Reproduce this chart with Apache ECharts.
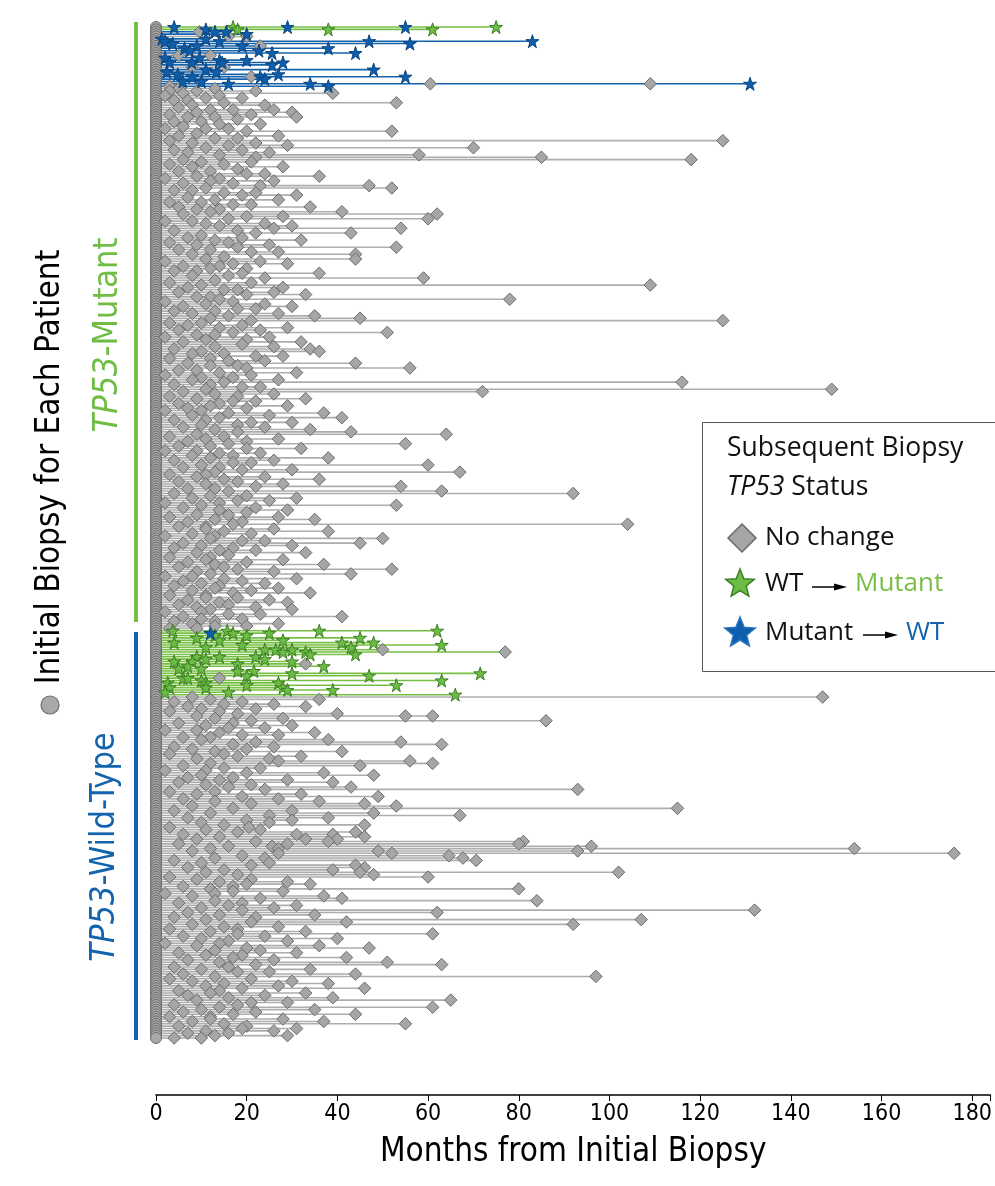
<!DOCTYPE html>
<html><head><meta charset="utf-8">
<script src="https://cdn.jsdelivr.net/npm/echarts@6/dist/echarts.min.js"></script>
<style>html,body{margin:0;padding:0;background:#fff}#c{width:995px;height:1186px}</style>
</head><body><div id="c"></div><script>
// ---------- DATA (months from initial biopsy) ----------
// TP53-mutant group, one entry per patient (top to bottom): "no change" biopsies
const mutDiamonds = [
[],[],[9.6],[],[16,20],[],[],[],[23],[],
[],[],[5,12],[],[],[],[],[8,15],[],[],
[],[21],[],[],[60.5,109],[3],[5,13],[3,9,22],[6,39],[2,14],
[11,19],[4,7],[15,53],[8,24],[5],[12,17,26],[9,30],[3,21],[7,13,31],[18],
[4,10],[14,23],[6],[2,11,16],[20,52],[9],[5,27],[13,18],[3,125],[8,22],
[16,29],[11,70],[4,19],[7,25],[14,58],[22,85],[6,118],[10,21],[3,15],[8,28],
[18],[5,12],[20,24],[9,36],[2,14],[12,26],[6,17],[23,47],[11,52],[4,8],
[15,22],[19,31],[7],[13,27],[3,10],[17,21],[5,34],[9,14],[12,41],[6,62],
[20,28],[16,60],[2,8],[11,24],[14,30],[26,54],[4,18],[22,43],[10],[7,19],
[13,32],[3,16],[9,25],[18,53],[5,12],[21,27],[8,44],[15],[11,44],[2,23],
[17,29],[6,14],[12,20],[4,9],[19,36],[8,16],[24,59],[13],[3,21],[10,109],
[7,28],[15,18],[5,26],[20,33],[9,12],[14,78],[2,17],[11,24],[6,30],[18,22],
[4,13],[8,27],[16,35],[12,45],[21,125],[3,10],[7,19],[14,29],[5,23],[17,51],
[9,13],[2,25],[11,20],[6,32],[19],[13,26],[4,34],[10,36],[8,15],[22,28],
[3,12],[16,24],[7,44],[12,18],[20,56],[5,9],[14,31],[2,21],[10,17],[8,27],
[15,116],[4,12],[19,23],[11,149],[6,72],[13,26],[3,18],[9,33],[17,22],[5,14],
[12,29],[7,20],[2,10],[16,37],[8,25],[14,41],[4,11],[21,30],[10,18],[6,24],
[13,34],[18,43],[9,64],[3,15],[11,27],[7,20],[16,55],[5,12],[20,32],[2,9],
[14,23],[8,17],[12,38],[4,26],[17,21],[10,60],[6,14],[19,30],[13,67],[3,11],
[9,24],[15,36],[5,18],[11,28],[22,54],[7,13],[16,63],[4,92],[12,20],[8,31],
[18,25],[2,14],[10,53],[6,22],[14,29],[20],[9,16],[3,27],[13,35],[7,19],
[17,104],[5,11],[11,26],[15,38],[8,21],[2,13],[12,50],[19,24],[6,45],[10,30],
[4,17],[14,22],[9,33],[16],[3,12],[11,28],[7,20],[13,37],[5,15],[18,52],
[9,26],[12,43],[2,8],[15,31],[6,19],[10,24],[4,14],[13,27],[8,21],[17,34],
[3,11],[11,18],[7,25],[14,29],[5,16],[9,22],[12,30],[2,10],[16,23],[6,41],
[10,19],[4,13],[8,27],[13,20],[3,9]
];
// TP53-mutant group: Mutant -> WT biopsies (top rows)
const mutBlueStars = [
[4,29,55],[11],[13,15.5],[20],[],[1.3,11],[2,14,47,83],[3.7,56],[9,19],[6.3,38],
[7.4,22.7],[25.6,44],[],[2,9.6],[14,20],[3,7.9,14.6,28],[25.6],[],[11,48],[2.4,13.3],
[4.8,27],[8,23,55],[24],[5.9,10],[16,34,131],[38],[]
];
// TP53-mutant group: WT -> Mutant biopsies
const mutGreenStars = [[17,75],[18,38,61]];

// TP53-wild-type group, one entry per patient: "no change" biopsies
const wtDiamonds = [
[],[],[],[],[],[],[],[],[50],[77],
[],[],[],[],[33],[],[],[],[],[],
[14],[],[],[],[],[],[],[],[8,147],[12,36],
[4,19],[15,26],[7,33],[10,22],[3,14],[18,40],[9,55,61],[13,28],[21,86],[5,17],
[11,30],[16,24],[2,9],[14,35],[19,27],[6,12],[10,38],[22,54],[17,63],[4,26],
[8,20],[13,41],[3,15],[18,32],[9,25],[27,56],[12,61],[6,45],[15,23],[2,11],
[20,37],[10,48],[7,17],[14,29],[5,39],[11,21],[16,43],[24,93],[3,13],[9,32],
[19,49],[6,27],[13,36],[21,46],[8,53],[17,115],[4,30],[12,48],[25,67],[7,38],
[20,30],[10,25],[15,46],[3,20.5],[11,23],[18,44],[6,31,39],[14,46],[9,33,40],[22,38,81],
[5,29,80],[16,25.6,96],[12,27,154],[8,49,93],[27,52,176],[19,64.6],[13,24,67.7],[4,70.6],[10,25],[21,44],
[7,46],[15,39],[11,45,102],[18,48],[3,60],[9,21],[14,29],[20,34],[6,17],[12,80],
[17,28],[2,13],[8,37],[23,41],[13,84],[5,19],[16,31],[10,26],[19,132],[7,62],
[14,35],[4,22],[11,107],[21,42],[8,92],[15,27],[3,18],[12,33],[18,61],[6,24],
[10,40],[16,29],[2,14],[9,36],[20,47],[13,23],[5,31],[11,19],[17,42],[7,26],
[14,51],[22,63],[4,16],[10,34],[18,25],[6,44],[13,97],[3,21],[8,30],[15,38],
[11,27],[19,46],[5,14],[12,33],[7,24],[16,39],[9,65],[21,29],[4,18],[14,61],
[10,35],[6,22],[17,44],[3,12],[12,28],[8,37],[15,55],[5,20],[19,31],[11,26],
[7,16],[13,29],[4,10]
];
// TP53-wild-type group: WT -> Mutant biopsies (top rows)
const wtGreenStars = [
[3.7,15.7,36,62],[17,25],[13,20],[9,45],[14,28],[4,41,48],[19,63],[11,43],[24,26.4,30],[28,33],
[34,44],[9,14,22],[11,24],[4,8,30],[18],[7,37],[5,10],[18,21.6],[30,71.5],[20,47],
[6,7],[10,63],[2.6,11,27],[20,53],[3,11,28],[29,39],[2,16],[66]
];
// TP53-wild-type group: Mutant -> WT biopsies
const wtBlueStars = [[],[12]];

const xTicks = [0,20,40,60,80,100,120,140,160,180];
const xAxisMax = 184; // axis line runs on to the right edge

// ---------- BUILD ----------
const GREY='#adadad', GREEN='#76bf44', BLUE='#1663ad';
const lineColors=[GREY,GREEN,BLUE];
const lineData=[], circleData=[], diamondData=[], greenData=[], blueData=[];
function addRow(row, dia, green, blue){
  circleData.push([0,row]);
  dia.forEach(m=>diamondData.push([m,row]));
  green.forEach(m=>greenData.push([m,row]));
  blue.forEach(m=>blueData.push([m,row]));
  const gMax=green.length?Math.max(...green):-1;
  const bMax=blue.length?Math.max(...blue):-1;
  const end=Math.max(0,...dia,...green,...blue);
  let c=0; if(gMax>=0||bMax>=0) c=gMax>bMax?1:2;
  lineData.push([end,row,c]);
}
const nMut=mutDiamonds.length, nWt=wtDiamonds.length, N=nMut+nWt;
for(let i=0;i<nMut;i++) addRow(i,mutDiamonds[i],mutGreenStars[i]||[],mutBlueStars[i]||[]);
for(let i=0;i<nWt;i++) addRow(nMut+i,wtDiamonds[i],wtGreenStars[i]||[],wtBlueStars[i]||[]);
lineData.sort((a,b)=>a[2]-b[2]);

const GRID_TOP=27, FIRST_Y=27, LAST_Y=1038, AXIS_Y=1095;
const yMax=(N-1)*(AXIS_Y-GRID_TOP)/(LAST_Y-FIRST_Y);

const STAR='path://M50,0 L61.8,35.5 L99,35.5 L69,57.5 L80.4,93 L50,71 L19.6,93 L31,57.5 L1,35.5 L38.2,35.5 Z';
const AXF="'Liberation Sans Narrow','DejaVu Sans Condensed','Liberation Sans',Arial,sans-serif";
const LF="'Open Sans','Noto Sans',Arial,sans-serif";

function starPts(cx,cy,R,r){const p=[];for(let i=0;i<10;i++){const a=-Math.PI/2+i*Math.PI/5;const rr=i%2?r:R;p.push([cx+rr*Math.cos(a),cy+rr*Math.sin(a)]);}return p;}

const chart=echarts.init(document.getElementById('c'),null,{renderer:'canvas'});
chart.setOption({
  animation:false,
  backgroundColor:'#fff',
  grid:{left:156,right:0,top:GRID_TOP,bottom:1186-AXIS_Y,containLabel:false},
  xAxis:{type:'value',min:xTicks[0],max:xAxisMax,interval:20,position:'bottom',
    axisLine:{show:true,onZero:false,lineStyle:{color:'#000',width:1.6}},
    axisTick:{show:true,length:6,lineStyle:{color:'#000',width:1}},
    axisLabel:{fontSize:23,color:'#000',fontFamily:AXF,margin:8,showMaxLabel:true,
      formatter:v=>xTicks.includes(v)?String(v):''},
    splitLine:{show:false},
    name:'Months from Initial Biopsy',nameLocation:'middle',nameGap:41,
    nameTextStyle:{fontSize:33,color:'#000',fontFamily:AXF}},
  yAxis:{type:'value',inverse:true,min:0,max:yMax,show:false,splitLine:{show:false}},
  series:[
    {type:'custom',data:lineData,encode:{x:0,y:1},z:1,clip:false,
      renderItem:function(params,api){
        const p0=api.coord([0,api.value(1)]);
        const p1=api.coord([api.value(0),api.value(1)]);
        return {type:'line',shape:{x1:p0[0],y1:p0[1],x2:p1[0],y2:p1[1]},
          style:{stroke:lineColors[api.value(2)],lineWidth:1.6}};
      }},
    {type:'scatter',data:circleData,symbol:'circle',symbolSize:11,clip:false,z:2,
      itemStyle:{color:'#a9a9a9',borderColor:'#6e6e6e',borderWidth:1,opacity:1}},
    {type:'scatter',data:diamondData,symbol:'diamond',symbolSize:12.5,clip:false,z:3,
      itemStyle:{color:'#a6a6a6',borderColor:'#6b6b6b',borderWidth:1,opacity:1}},
    {type:'scatter',data:greenData,symbol:STAR,symbolSize:13,clip:false,z:4,
      itemStyle:{color:'#6bbd45',borderColor:'#3e7e24',borderWidth:1,opacity:1}},
    {type:'scatter',data:blueData,symbol:STAR,symbolSize:13,clip:false,z:5,
      itemStyle:{color:'#0f5eab',borderColor:'#0a4580',borderWidth:1,opacity:1}}
  ],
  graphic:[
    {type:'rect',z:100,shape:{x:134,y:22,width:4,height:600},style:{fill:'#76bf44'}},
    {type:'rect',z:100,shape:{x:134,y:632,width:4,height:408},style:{fill:'#1463ad'}},
    {type:'text',z:100,x:50,y:467,rotation:Math.PI/2,
      style:{text:'Initial Biopsy for Each Patient',fontSize:33,fontFamily:AXF,fill:'#000',align:'center',verticalAlign:'middle'}},
    {type:'circle',z:100,shape:{cx:50,cy:705,r:9},style:{fill:'#a9a9a9',stroke:'#6e6e6e',lineWidth:1.2}},
    {type:'text',z:100,x:108,y:335,rotation:Math.PI/2,
      style:{text:'{i|TP53}{n|-Mutant}',fontSize:34,fontFamily:AXF,fill:'#6fbd44',align:'center',verticalAlign:'middle',
        rich:{i:{fontSize:34,fontFamily:AXF,fontStyle:'italic',fill:'#6fbd44'},n:{fontSize:34,fontFamily:AXF,fill:'#6fbd44'}}}},
    {type:'text',z:100,x:105,y:847,rotation:Math.PI/2,
      style:{text:'{i|TP53}{n|-Wild-Type}',fontSize:34,fontFamily:AXF,fill:'#1463ad',align:'center',verticalAlign:'middle',
        rich:{i:{fontSize:34,fontFamily:AXF,fontStyle:'italic',fill:'#1463ad'},n:{fontSize:34,fontFamily:AXF,fill:'#1463ad'}}}},
    // legend box
    {type:'rect',z:100,shape:{x:702.5,y:422.5,width:320,height:249},style:{fill:'#fff',stroke:'#555',lineWidth:1}},
    {type:'text',z:101,x:727,y:448,style:{text:'Subsequent Biopsy',fontSize:26.5,fontFamily:LF,fill:'#111',verticalAlign:'middle'}},
    {type:'text',z:101,x:727,y:487,style:{text:'{i|TP53} Status',fontSize:26.5,fontFamily:LF,fill:'#111',verticalAlign:'middle',
      rich:{i:{fontSize:26.5,fontFamily:LF,fontStyle:'italic',fill:'#111'}}}},
    {type:'polygon',z:101,shape:{points:[[742,524],[756,538],[742,552],[728,538]]},style:{fill:'#a6a6a6',stroke:'#6b6b6b',lineWidth:1.5}},
    {type:'text',z:101,x:765,y:538,style:{text:'No change',fontSize:26,fontFamily:LF,fill:'#111',verticalAlign:'middle'}},
    {type:'polygon',z:101,shape:{points:starPts(740,584,15,6.5)},style:{fill:'#6bbd45',stroke:'#3e7e24',lineWidth:1.5}},
    {type:'text',z:101,x:765,y:584,style:{text:'WT',fontSize:26,fontFamily:LF,fill:'#111',verticalAlign:'middle'}},
    {type:'line',z:101,shape:{x1:812,y1:587,x2:838,y2:587},style:{stroke:'#000',lineWidth:1.5}},
    {type:'polygon',z:101,shape:{points:[[834,583.5],[847,587],[834,590.5]]},style:{fill:'#000'}},
    {type:'text',z:101,x:855,y:584,style:{text:'Mutant',fontSize:26,fontFamily:LF,fill:'#76bf44',verticalAlign:'middle'}},
    {type:'polygon',z:101,shape:{points:starPts(740,633,16,7)},style:{fill:'#0f5eab',stroke:'#2a77c0',lineWidth:1.5}},
    {type:'text',z:101,x:765,y:633,style:{text:'Mutant',fontSize:26,fontFamily:LF,fill:'#111',verticalAlign:'middle'}},
    {type:'line',z:101,shape:{x1:863,y1:635,x2:889,y2:635},style:{stroke:'#000',lineWidth:1.5}},
    {type:'polygon',z:101,shape:{points:[[885,631.5],[898,635],[885,638.5]]},style:{fill:'#000'}},
    {type:'text',z:101,x:906,y:633,style:{text:'WT',fontSize:26,fontFamily:LF,fill:'#1463ad',verticalAlign:'middle'}}
  ]
});
</script></body></html>
